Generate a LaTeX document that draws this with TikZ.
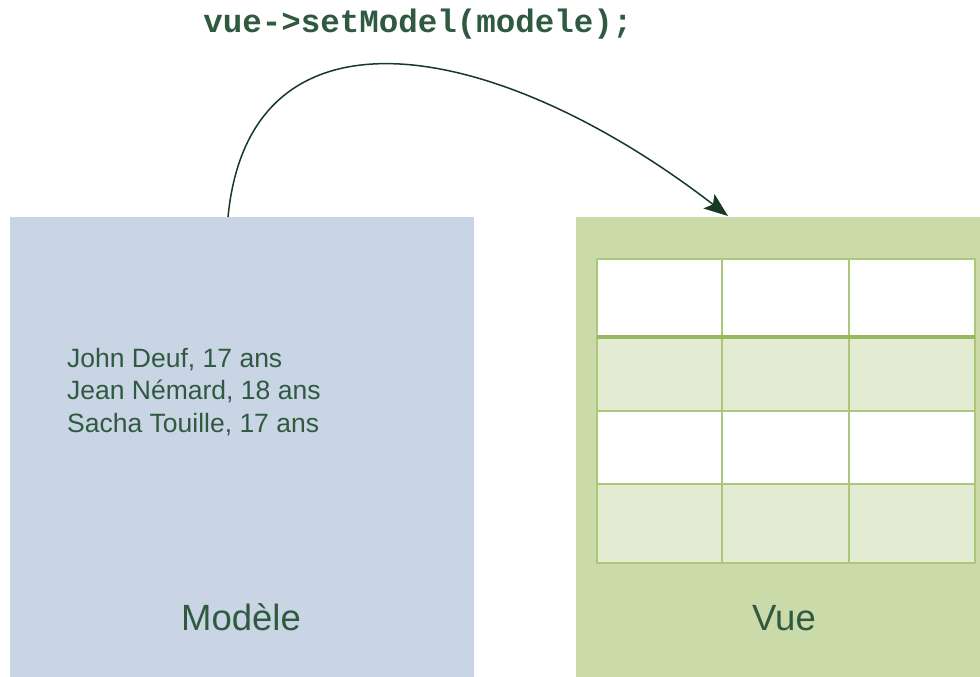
\documentclass[tikz,border=0pt]{standalone}
\usepackage{fontspec}
\setmainfont{Liberation Sans}
\newfontfamily\codefont{Liberation Mono}
\usetikzlibrary{arrows.meta}
\definecolor{modblue}{RGB}{201,213,229}
\definecolor{vuegreen}{RGB}{203,218,169}
\definecolor{celllight}{RGB}{227,235,211}
\definecolor{gridline}{RGB}{172,199,122}
\definecolor{gridthick}{RGB}{150,185,95}
\definecolor{txtgreen}{RGB}{47,90,64}
\definecolor{arrowgreen}{RGB}{22,58,34}
\tikzset{
  panel/.style={draw=none, inner sep=0pt, outer sep=0pt, anchor=north west},
  listtxt/.style={inner sep=0pt, anchor=base west, text=txtgreen, font=\fontsize{26.5}{32}\selectfont},
  titletxt/.style={inner sep=0pt, anchor=base, text=txtgreen, font=\fontsize{36.5}{40}\selectfont},
  cellline/.style={draw=gridline, line width=2pt},
  flow/.style={draw=arrowgreen, line width=1.5pt, -{Stealth[length=24pt,width=18pt,inset=5pt]}}
}
\begin{document}
\begin{tikzpicture}[x=1pt,y=-1pt]
\useasboundingbox[fill=white] (0,0) rectangle (980,677);
% panels
\node[panel, fill=modblue, minimum width=464pt, minimum height=460pt] (modele) at (10,217) {};
\node[panel, fill=vuegreen, minimum width=404pt, minimum height=460pt] (vue) at (576,217) {};
% grid
\fill[white] (597,259) rectangle (975,337);
\fill[celllight] (597,337) rectangle (975,411);
\fill[white] (597,411) rectangle (975,484);
\fill[celllight] (597,484) rectangle (975,563);
\draw[cellline] (597,259) rectangle (975,563);
\draw[cellline] (722,259) -- (722,563);
\draw[cellline] (849,259) -- (849,563);
\draw[cellline] (597,411) -- (975,411);
\draw[cellline] (597,484) -- (975,484);
\draw[draw=gridthick, line width=4pt] (597,337) -- (975,337);
% texts
\node[listtxt] (l1) at (67,367) {John Deuf, 17 ans};
\node[listtxt] (l2) at (67,399.5) {Jean Némard, 18 ans};
\node[listtxt] (l3) at (67,432) {Sacha Touille, 17 ans};
\node[titletxt] (tmod) at (241,630) {Modèle};
\node[titletxt] (tvue) at (784,630) {Vue};
\node[inner sep=0pt, anchor=base, text=txtgreen, font=\codefont\bfseries\fontsize{32.5}{36}\selectfont] (code) at (418,33) {vue->setModel(modele);};
% connector
\coordinate (src) at (228,217);
\coordinate (dst) at (728,216);
\draw[flow] (src) .. controls (250,-10) and (500,40) .. (dst);
\end{tikzpicture}
\end{document}
